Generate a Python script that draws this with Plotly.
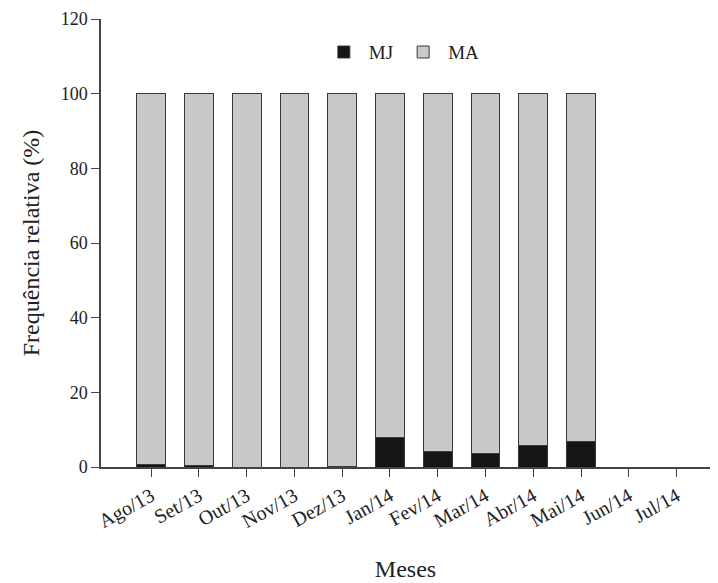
import plotly.graph_objects as go

months = ["Ago/13", "Set/13", "Out/13", "Nov/13", "Dez/13", "Jan/14",
          "Fev/14", "Mar/14", "Abr/14", "Mai/14", "Jun/14", "Jul/14"]
mj = [0.8, 0.3, 0.0, 0.0, 0.2, 7.8, 4.2, 3.5, 5.7, 6.8, None, None]
ma = [99.2, 99.7, 100.0, 100.0, 99.8, 92.2, 95.8, 96.5, 94.3, 93.2, None, None]

font_family = "Liberation Serif, Times New Roman, serif"

fig = go.Figure()
fig.add_trace(go.Bar(x=months, y=mj, name="MJ", marker=dict(color="#151515", line=dict(color="#3a3a3a", width=1)), width=0.6))
fig.add_trace(go.Bar(x=months, y=ma, name="MA", marker=dict(color="#c9c9c9", line=dict(color="#3a3a3a", width=1)), width=0.6))

fig.update_layout(
    barmode="stack",
    width=710, height=575,
    margin=dict(l=93, r=8, t=11, b=116, autoexpand=False),
    paper_bgcolor="white", plot_bgcolor="white",
    font=dict(family=font_family, color="#222", size=18),
    legend=dict(orientation="h", x=0.494, xanchor="center", y=0.926, yanchor="middle",
                font=dict(size=19), bgcolor="rgba(0,0,0,0)", traceorder="normal",
                itemwidth=40),
    showlegend=True,
)
fig.update_xaxes(
    type="category", categoryorder="array", categoryarray=months,
    range=[-1.05, 11.7], automargin=False,
    showline=True, linecolor="#444", linewidth=1.5,
    ticks="outside", ticklen=8, tickcolor="#444",
    tickangle=-29, tickfont=dict(size=20),
    title=dict(text="Meses", font=dict(size=24), standoff=28),
    showgrid=False, zeroline=False,
)
fig.update_yaxes(
    range=[0, 120], dtick=20, automargin=False,
    showline=True, linecolor="#444", linewidth=1.5,
    ticks="outside", ticklen=8, tickcolor="#444",
    tickfont=dict(size=18),
    title=dict(text="Frequência relativa (%)", font=dict(size=24), standoff=14),
    showgrid=False, zeroline=False,
)

fig.write_html("out.html")
